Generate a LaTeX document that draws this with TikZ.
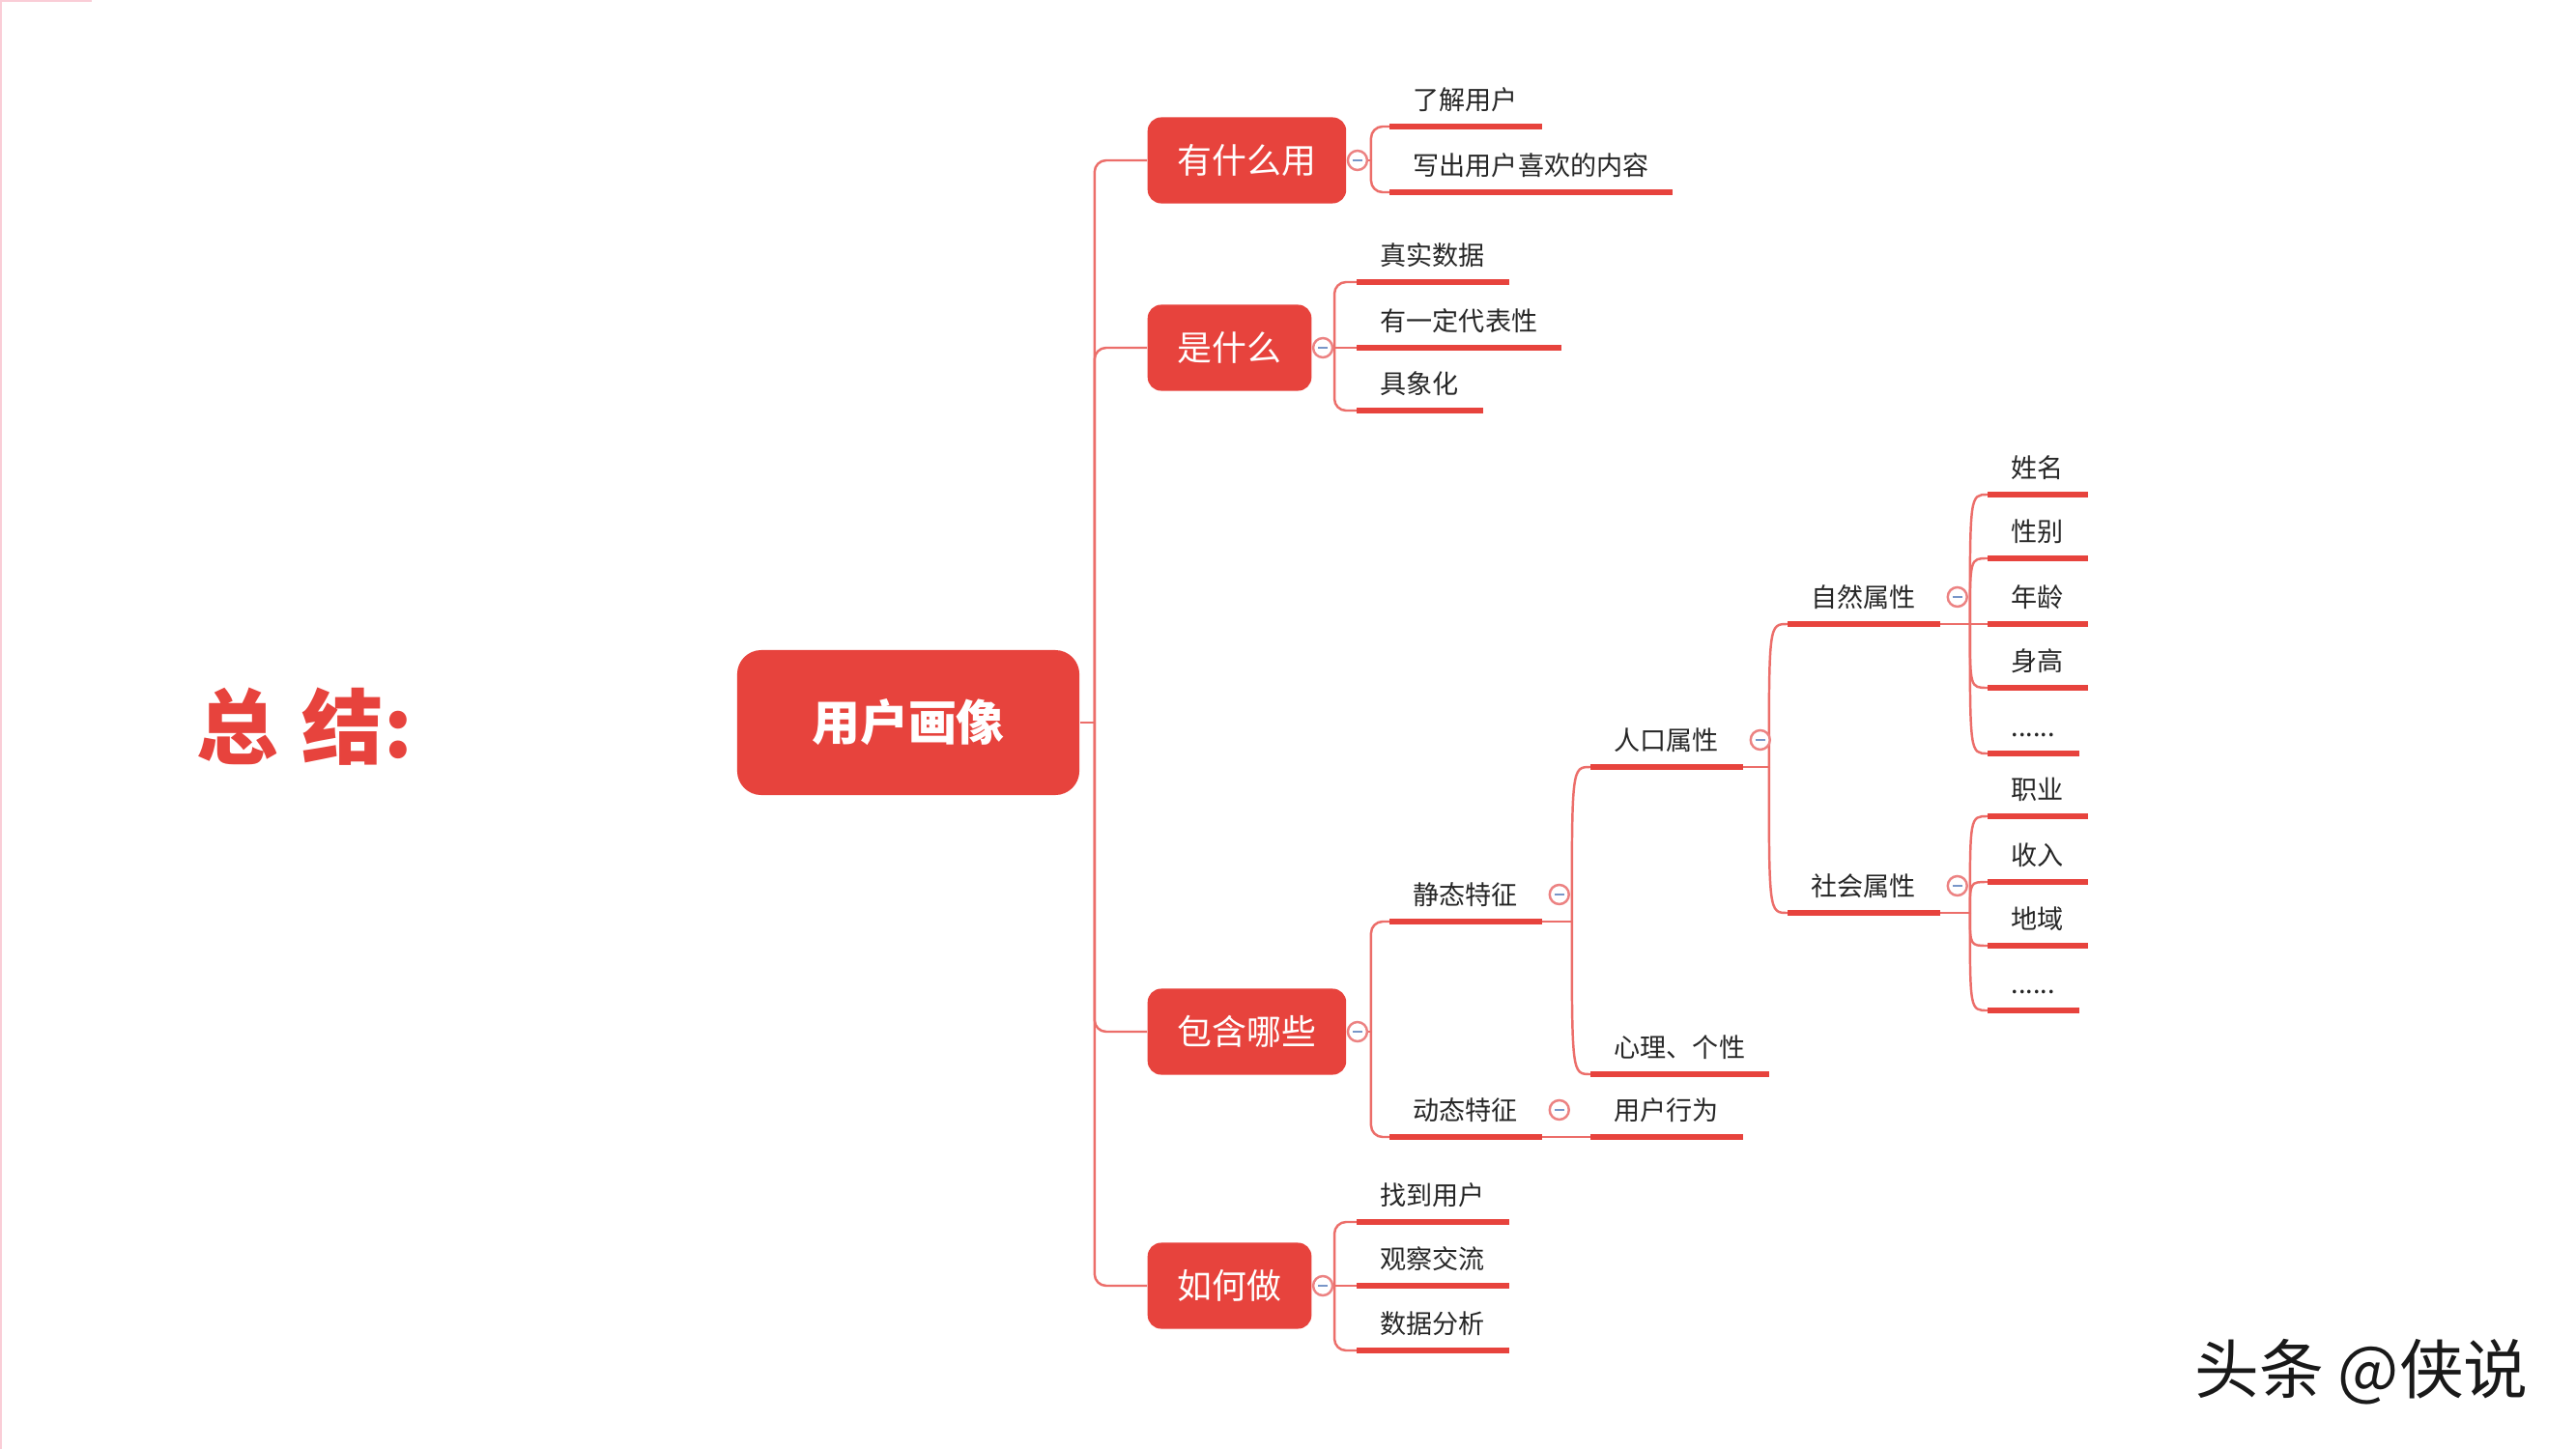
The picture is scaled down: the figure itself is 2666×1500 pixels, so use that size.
\documentclass[tikz,border=0pt]{standalone}
\usepackage{fontspec}
\setmainfont{Noto Sans CJK SC}
\usetikzlibrary{positioning,calc}

\definecolor{mapred}{RGB}{231,67,61}
\definecolor{linkred}{RGB}{236,110,106}
\definecolor{foldpink}{RGB}{236,130,130}
\definecolor{foldmark}{RGB}{120,150,200}
\definecolor{edgepink}{RGB}{250,205,215}

\tikzset{
  rootbox/.style={rectangle, rounded corners=0.25cm, fill=mapred, text=white,
    font=\fontsize{14.2}{16}\selectfont\bfseries, minimum width=3.54cm, minimum height=1.5cm},
  topicbox/.style={rectangle, rounded corners=0.14cm, fill=mapred, text=white,
    font=\fontsize{10.2}{12}\selectfont, inner xsep=0.31cm, inner ysep=0, minimum height=0.89cm},
  leaf/.style={anchor=south west, inner xsep=0.24cm, inner ysep=0, text height=0.24cm,
    text depth=0.167cm, font=\fontsize{7.7}{9}\selectfont, text=black!85},
  uline/.style={draw=mapred, line width=1.7pt},
  branch/.style={draw=linkred, line width=0.7pt, rounded corners=0.12cm},
  fold/.style={circle, draw=foldpink, fill=white, line width=0.7pt, minimum size=0.2cm, inner sep=0pt,
    path picture={\draw[foldmark, line width=0.6pt]
      ([xshift=-0.05cm]path picture bounding box.center) -- ([xshift=0.05cm]path picture bounding box.center);}}
}

\begin{document}
\begin{tikzpicture}[x=0.01cm, y=-0.01cm]
  \fill[white] (0,0) rectangle (2666,1500);
  \useasboundingbox (0,0) rectangle (2666,1500);
  \draw[edgepink, line width=0.6pt] (1,0) -- (1,1500) (0,1) -- (95,1);

  \node (title) at (315,752) [font=\fontsize{24}{28}\selectfont\bfseries, text=mapred] {总\hspace{0.3em}结:};
  \node[rootbox] (root) at (940,748) {用户画像};

  % first level
  \node[topicbox, anchor=west] (use)  at (1187,166)  {有什么用};
  \node[topicbox, anchor=west] (what) at (1187,360)  {是什么};
  \node[topicbox, anchor=west] (incl) at (1187,1068) {包含哪些};
  \node[topicbox, anchor=west] (how)  at (1187,1331) {如何做};

  % leaves
  \node[leaf] (u1) at (1438,131) {了解用户};
  \node[leaf] (u2) at (1438,199) {写出用户喜欢的内容};
  \node[leaf] (w1) at (1404,292) {真实数据};
  \node[leaf] (w2) at (1404,360) {有一定代表性};
  \node[leaf] (w3) at (1404,425) {具象化};
  \node[leaf] (h1) at (1404,1265) {找到用户};
  \node[leaf] (h2) at (1404,1331) {观察交流};
  \node[leaf] (h3) at (1404,1398) {数据分析};

  \node[leaf] (s) at (1438,954)  {静态特征};
  \node[leaf] (d) at (1438,1177) {动态特征};
  \node[leaf] (p) at (1646,794)  {人口属性};
  \node[leaf] (m) at (1646,1112) {心理、个性};
  \node[leaf] (b) at (1646,1177) {用户行为};
  \node[leaf] (n) at (1850,646)  {自然属性};
  \node[leaf] (c) at (1850,945)  {社会属性};

  \node[leaf] (n1) at (2057,512) {姓名};
  \node[leaf] (n2) at (2057,578) {性别};
  \node[leaf] (n3) at (2057,646) {年龄};
  \node[leaf] (n4) at (2057,712) {身高};
  \node[leaf] (n5) at (2057,780) {......};
  \node[leaf] (c1) at (2057,845) {职业};
  \node[leaf] (c2) at (2057,913) {收入};
  \node[leaf] (c3) at (2057,979) {地域};
  \node[leaf] (c4) at (2057,1046) {......};

  % trunk
  \coordinate (trunk) at ([xshift=0.15cm]root.east);
  \draw[branch] (root.east) -- (trunk);
  \foreach \t in {use,what,incl,how}
    \draw[branch] (\t.west) -| (trunk);

  % brackets of the first level
  \coordinate (useJ)  at ([xshift=0.25cm]use.east);
  \coordinate (whatJ) at ([xshift=0.23cm]what.east);
  \coordinate (inclJ) at ([xshift=0.25cm]incl.east);
  \coordinate (howJ)  at ([xshift=0.23cm]how.east);
  \draw[branch] (use.east) -- (useJ) (what.east) -- (whatJ)
    (incl.east) -- (inclJ) (how.east) -- (howJ);
  \draw[branch] (useJ) |- (u1.south west);
  \draw[branch] (useJ) |- (u2.south west);
  \draw[branch] (whatJ) |- (w1.south west);
  \draw[branch] (whatJ) -- (w2.south west);
  \draw[branch] (whatJ) |- (w3.south west);
  \draw[branch] (howJ) |- (h1.south west);
  \draw[branch] (howJ) -- (h2.south west);
  \draw[branch] (howJ) |- (h3.south west);
  \draw[branch] (inclJ) |- (s.south west);
  \draw[branch] (inclJ) |- (d.south west);

  % curved branches
  \coordinate (sJ) at ([xshift=0.31cm]s.south east);
  \coordinate (pJ) at ([xshift=0.27cm]p.south east);
  \coordinate (nJ) at ([xshift=0.31cm]n.south east);
  \coordinate (cJ) at ([xshift=0.31cm]c.south east);
  \draw[branch] (s.south east) -- (sJ) (p.south east) -- (pJ)
    (n.south east) -- (nJ) (c.south east) -- (cJ);
  \draw[branch] (d.south east) -- (b.south west);
  \foreach \k in {p,m}
    \draw[branch] (sJ) .. controls (sJ |- \k.south west) .. (\k.south west);
  \foreach \k in {n,c}
    \draw[branch] (pJ) .. controls (pJ |- \k.south west) .. (\k.south west);
  \foreach \k in {n1,n2,n3,n4,n5}
    \draw[branch] (nJ) .. controls (nJ |- \k.south west) .. (\k.south west);
  \foreach \k in {c1,c2,c3,c4}
    \draw[branch] (cJ) .. controls (cJ |- \k.south west) .. (\k.south west);

  % underlines
  \foreach \k in {u1,u2,w1,w2,w3,h1,h2,h3,s,d,p,m,b,n,c,n1,n2,n3,n4,n5,c1,c2,c3,c4}
    \draw[uline] (\k.south west) -- (\k.south east);

  % fold marks
  \foreach \t in {use,what,incl,how}
    \node[fold] (\t F) at ([xshift=0.11cm]\t.east) {};
  \foreach \k in {s,d,p,n,c}
    \node[fold] (\k F) at ([xshift=0.18cm,yshift=0.28cm]\k.south east) {};

  \node (mark) at (2444,1420) [font=\fontsize{19}{22}\selectfont, text=black!90] {头条 @侠说};
\end{tikzpicture}
\end{document}
